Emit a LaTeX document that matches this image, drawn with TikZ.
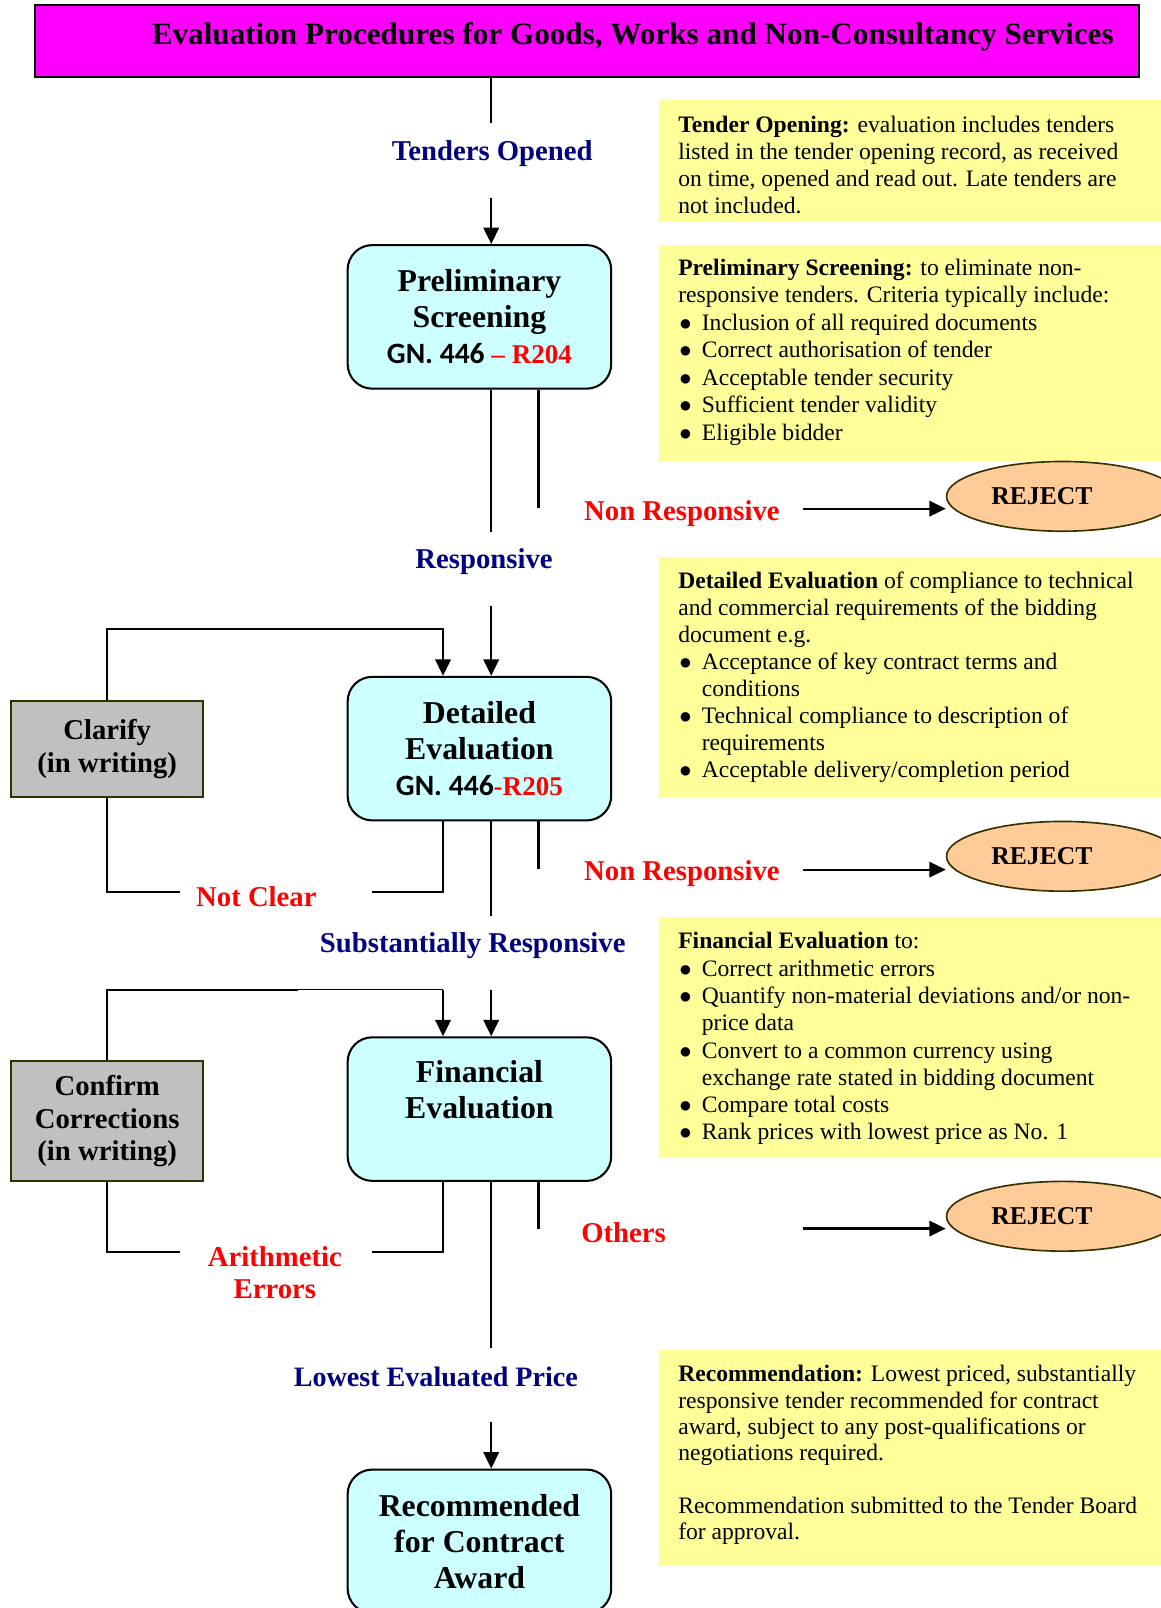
\documentclass[tikz,border=0pt]{standalone}
\usepackage{fontspec}
\setmainfont{Liberation Serif}
\newfontfamily\gnfont{Carlito}
\usetikzlibrary{arrows.meta,shapes.geometric}

\definecolor{titlemag}{HTML}{FF00FF}
\definecolor{procfill}{HTML}{CCFFFF}
\definecolor{notefill}{HTML}{FFFF99}
\definecolor{sidefill}{HTML}{C0C0C0}
\definecolor{sideedge}{HTML}{333300}
\definecolor{rejfill}{HTML}{FFCC99}
\definecolor{navylabel}{HTML}{000080}

% bullet lines for the note boxes
\newcommand\bitem[1]{\makebox[11.5pt][l]{\hspace*{0.5pt}$\bullet$}#1}
\newcommand\bcont[1]{\makebox[11.5pt]{}#1}
% regulation reference line inside the process boxes
\newcommand\gnref[2]{{\fontsize{14.4}{17.5}\selectfont\gnfont\bfseries GN. 446}%
  {\fontsize{13.2}{17.5}\selectfont\color{red}#1#2}}

\begin{document}
\begin{tikzpicture}[x=0.5pt,y=-0.5pt,
  conn/.style={line width=1.1pt},
  thinconn/.style={line width=0.6pt},
  arrowline/.style={line width=1.1pt,-{Triangle[length=8pt,width=7.5pt]}},
  procbox/.style={draw=black,line width=1pt,fill=procfill,rounded corners=12pt,
    minimum width=128.5pt,minimum height=70pt,inner sep=0pt,align=center,
    font=\fontsize{15.5}{17.5}\selectfont\bfseries},
  sidebox/.style={draw=sideedge,line width=1pt,fill=sidefill,
    minimum width=93.5pt,inner sep=0pt,align=center,
    font=\fontsize{14}{15.8}\selectfont\bfseries},
  rejbox/.style={ellipse,draw=sideedge,line width=0.8pt,fill=rejfill,
    minimum width=113pt,minimum height=34pt,inner sep=0pt},
  rejtext/.style={font=\fontsize{12.5}{14}\selectfont\bfseries},
  bluelabel/.style={text=navylabel,align=center,inner sep=0pt,
    font=\fontsize{14}{15.5}\selectfont\bfseries},
  redlabel/.style={text=red,align=center,inner sep=0pt,
    font=\fontsize{14}{15.5}\selectfont\bfseries},
  notetext/.style={anchor=north west,inner sep=0pt,align=left,
    font=\fontsize{11.5}{13.1}\selectfont},
]
\clip (0,0) rectangle (1132,1568);
\fill[white] (0,0) rectangle (1132,1568);

% ---------- title ----------
\node[draw=black,line width=1pt,fill=titlemag,minimum width=538.5pt,
  minimum height=35pt,inner sep=0pt] (title) at (572.5,40) {};
\node[font=\fontsize{15.2}{17}\selectfont\bfseries,inner sep=0pt] (titletext) at (617,36)
  {Evaluation Procedures for Goods, Works and Non-Consultancy Services};

% ---------- note boxes ----------
\fill[notefill] (643,98) rectangle (1140,216);
\node[notetext] (note1) at (661,113) {%
\textbf{Tender Opening:} evaluation includes tenders\\
listed in the tender opening record, as received\\
on time, opened and read out. Late tenders are\\
not included.};

\fill[notefill] (643,239) rectangle (1140,450);
\node[notetext,font=\fontsize{11.5}{13.4}\selectfont] (note2) at (661,252) {%
\textbf{Preliminary Screening:} to eliminate non-\\
responsive tenders. Criteria typically include:\\
\bitem{Inclusion of all required documents}\\
\bitem{Correct authorisation of tender}\\
\bitem{Acceptable tender security}\\
\bitem{Sufficient tender validity}\\
\bitem{Eligible bidder}};

\fill[notefill] (643,543) rectangle (1140,777);
\node[notetext,font=\fontsize{11.5}{13.2}\selectfont] (note3) at (661,557) {%
\textbf{Detailed Evaluation} of compliance to technical\\
and commercial requirements of the bidding\\
document e.g.\\
\bitem{Acceptance of key contract terms and}\\
\bcont{conditions}\\
\bitem{Technical compliance to description of}\\
\bcont{requirements}\\
\bitem{Acceptable delivery/completion period}};

\fill[notefill] (643,894) rectangle (1140,1129);
\node[notetext,font=\fontsize{11.5}{13.3}\selectfont] (note4) at (661,909) {%
\textbf{Financial Evaluation} to:\\
\bitem{Correct arithmetic errors}\\
\bitem{Quantify non-material deviations and/or non-}\\
\bcont{price data}\\
\bitem{Convert to a common currency using}\\
\bcont{exchange rate stated in bidding document}\\
\bitem{Compare total costs}\\
\bitem{Rank prices with lowest price as No. 1}};

\fill[notefill] (643,1316) rectangle (1140,1527);
\node[notetext,font=\fontsize{11.5}{12.8}\selectfont] (note5) at (661,1331) {%
\textbf{Recommendation:} Lowest priced, substantially\\
responsive tender recommended for contract\\
award, subject to any post-qualifications or\\
negotiations required.\\[12.8pt]
Recommendation submitted to the Tender Board\\
for approval.};

% ---------- process boxes ----------
\node[procbox] (prelim) at (467.5,309)
  {Preliminary\\Screening\\\gnref{\ –\ }{R204}};
\node[procbox] (detailed) at (467.5,730)
  {Detailed\\Evaluation\\\gnref{-}{R205}};
\node[procbox] (financial) at (467.5,1081.5)
  {Financial\\Evaluation\\[-4pt]\strut};
\node[procbox] (recommend) at (467.5,1503)
  {Recommended\\for Contract\\Award};

\node[sidebox,minimum height=46.5pt] (clarify) at (104.5,730.5)
  {Clarify\\(in writing)};
\node[sidebox,minimum height=58.5pt] (confirm) at (104.5,1093.5)
  {Confirm\\Corrections\\(in writing)};

% ---------- reject ellipses ----------
\node[rejbox] (rej1) at (1036,484) {};
\node[rejtext] (rejt1) at (1016,484) {REJECT};
\node[rejbox] (rej2) at (1036,835) {};
\node[rejtext] (rejt2) at (1016,835) {REJECT};
\node[rejbox] (rej3) at (1036,1186) {};
\node[rejtext] (rejt3) at (1016,1186) {REJECT};

% ---------- labels ----------
\node[bluelabel] (lopened) at (480,150) {Tenders Opened};
\node[bluelabel] (lresp) at (472,548) {Responsive};
\node[bluelabel] (lsubst) at (461,922) {Substantially Responsive};
\node[bluelabel,font=\fontsize{13.7}{15.5}\selectfont\bfseries] (llowest) at (425,1343) {Lowest Evaluated Price};
\node[redlabel] (lnr1) at (665,501) {Non Responsive};
\node[redlabel] (lnr2) at (665,852) {Non Responsive};
\node[redlabel] (lothers) at (608,1202) {Others};
\node[redlabel] (lnotclear) at (250,874) {Not Clear};
\node[redlabel] (larith) at (268,1241) {Arithmetic\\Errors};

% ---------- connector end points ----------
\coordinate (m1) at (479,120);
\coordinate (m2) at (479,193);
\coordinate (m3) at (479,519);
\coordinate (m4) at (479,591);
\coordinate (m5) at (479,893);
\coordinate (m6) at (479,965);
\coordinate (m7) at (479,1314);
\coordinate (m8) at (479,1387);
\coordinate (s1) at (525,495);
\coordinate (s2) at (525,847);
\coordinate (s3) at (525,1198);
\coordinate (r1) at (783,496);
\coordinate (r2) at (783,848);
\coordinate (r3) at (783,1198);
\coordinate (lp1) at (432,613);
\coordinate (lp2) at (432,965);
\coordinate (lq1) at (363,870);
\coordinate (lq2) at (176,870);
\coordinate (lq3) at (363,1221);
\coordinate (lq4) at (176,1221);
\coordinate (lk) at (291,965);

% ---------- main flow ----------
\draw[conn] (title.south -| m1) -- (m1);
\draw[arrowline] (m2) -- (m2 |- prelim.north);
\draw[conn] (prelim.south -| m3) -- (m3);
\draw[conn] (prelim.south -| s1) -- (s1);
\draw[arrowline] (r1) -- (r1 -| rej1.west);
\draw[arrowline] (m4) -- (m4 |- detailed.north);
\draw[conn] (detailed.south -| m5) -- (m5);
\draw[conn] (detailed.south -| s2) -- (s2);
\draw[arrowline] (r2) -- (r2 -| rej2.west);
\draw[arrowline] (m6) -- (m6 |- financial.north);
\draw[conn] (financial.south -| m7) -- (m7);
\draw[conn] (financial.south -| s3) -- (s3);
\draw[arrowline] (r3) -- (r3 -| rej3.west);
\draw[arrowline] (m8) -- (m8 |- recommend.north);

% ---------- clarification loop ----------
\draw[arrowline] (clarify.north) |- (lp1) -- (lp1 |- detailed.north);
\draw[conn] (detailed.south -| lp1) |- (lq1);
\draw[conn] (lq2) -| (clarify.south);

% ---------- correction loop ----------
\draw[conn] (confirm.north) |- (lk);
\draw[thinconn] (lk) -- (lp2);
\draw[arrowline] (lp2) -- (lp2 |- financial.north);
\draw[conn] (financial.south -| lp2) |- (lq3);
\draw[conn] (lq4) -| (confirm.south);
\end{tikzpicture}
\end{document}
